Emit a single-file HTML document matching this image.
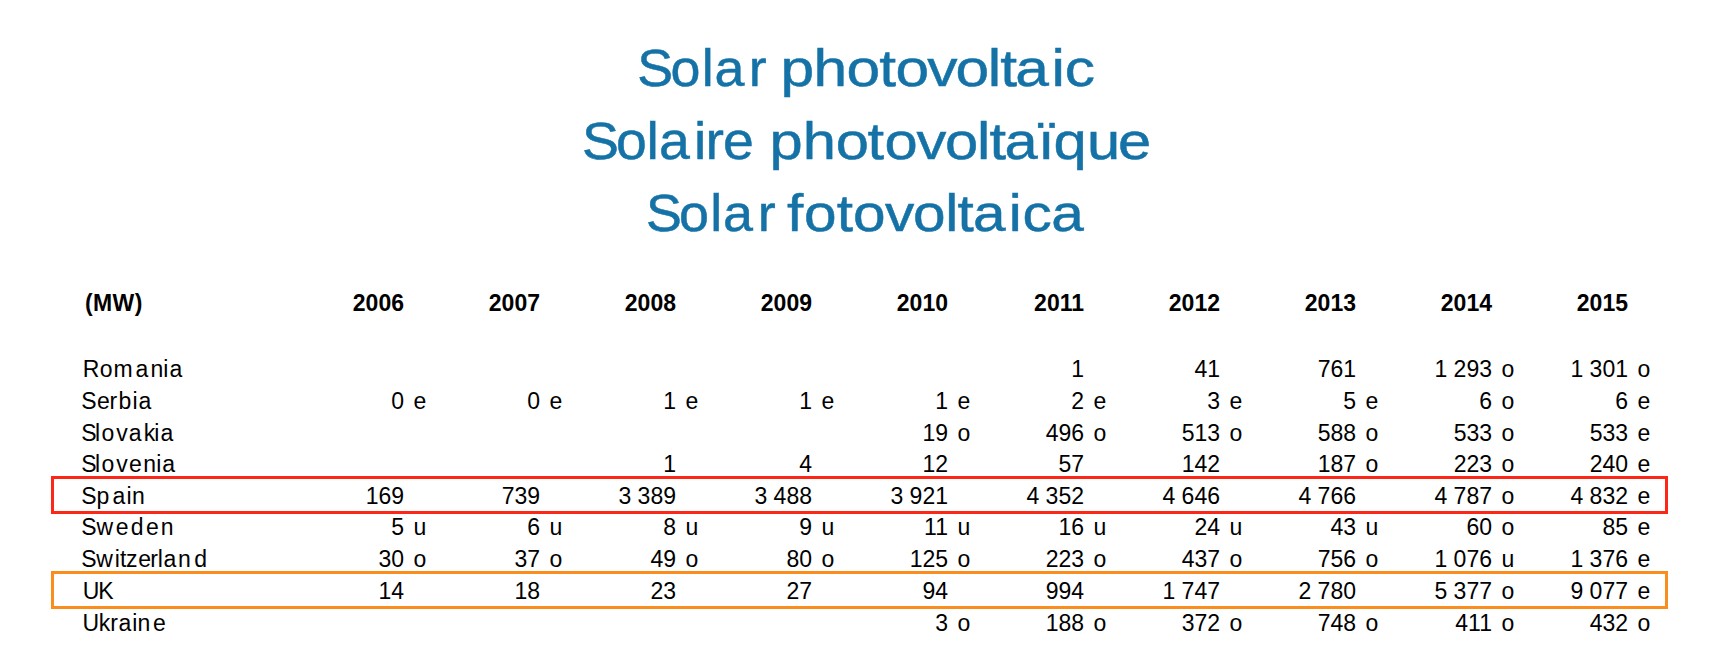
<!DOCTYPE html>
<html lang="en"><head><meta charset="utf-8"><title>Solar photovoltaic</title><style>
html,body{margin:0;padding:0;background:#fff;}
body{width:1724px;height:661px;position:relative;overflow:hidden;font-family:"Liberation Sans",Arial,Helvetica,sans-serif;color:#000;}
.t{position:absolute;white-space:nowrap;line-height:1;font-size:23px;}
.w{position:absolute;white-space:nowrap;line-height:1;font-size:52px;color:#1572a7;transform-origin:0 0;}
.r{text-align:right;}
.h{font-weight:bold;}
.box{position:absolute;left:51px;width:1617px;height:38px;box-sizing:border-box;border:3px solid;}
</style></head><body>
<h1 style="margin:0;font-size:52px;font-weight:normal">
<svg style="position:absolute;left:0;top:0" width="1724" height="260" viewBox="0 0 1724 260">
<g font-family="Liberation Sans, Arial, sans-serif" font-size="52" fill="#1572a7" stroke="#1572a7" stroke-width="0.50">
<text y="86" x="615.97 647.92 678.26 690.55 723.76" transform="scale(1.0347,1)">Solar</text>
<text y="86" x="670.70 699.14 727.40 755.71 769.59 796.96 821.11 848.99 859.70 872.62 903.68 915.08" transform="scale(1.1636,1)">photovoltaic</text>
<text y="159" x="545.70 577.68 606.34 617.98 650.91 661.59 678.06" transform="scale(1.0664,1)">Solaire</text>
<text y="159" x="670.63 699.57 728.44 756.14 770.92 798.83 823.52 851.54 862.38 875.55 904.75 918.10 947.34 974.47" transform="scale(1.1474,1)">photovoltaïque</text>
<text y="231" x="623.02 654.91 685.21 697.46 730.90" transform="scale(1.0367,1)">Solar</text>
<text y="231" x="699.14 714.14 743.21 757.76 786.08 811.15 839.63 850.66 864.34 896.10 908.23 933.85" transform="scale(1.1257,1)">fotovoltaica</text>
</g></svg>
</h1>
<div class="box" style="top:476px;border-color:#fc2716"></div>
<div class="box" style="top:571px;border-color:#fb8d1f"></div>
<div class="t h" style="left:85.00px;top:292px;letter-spacing:0.4px">(MW)</div>
<div class="t h r" style="right:1320.00px;top:292px">2006</div>
<div class="t h r" style="right:1184.00px;top:292px">2007</div>
<div class="t h r" style="right:1048.00px;top:292px">2008</div>
<div class="t h r" style="right:912.00px;top:292px">2009</div>
<div class="t h r" style="right:776.00px;top:292px">2010</div>
<div class="t h r" style="right:640.00px;top:292px">2011</div>
<div class="t h r" style="right:504.00px;top:292px">2012</div>
<div class="t h r" style="right:368.00px;top:292px">2013</div>
<div class="t h r" style="right:232.00px;top:292px">2014</div>
<div class="t h r" style="right:96.00px;top:292px">2015</div>
<svg style="position:absolute;left:0;top:0" width="260" height="661" viewBox="0 0 260 661">
<g font-family="Liberation Sans, Arial, sans-serif" font-size="23" fill="#000">
<text y="377" x="82.7 99.8 113.5 135.4 150.6 163.3 169.5">Romania</text>
<text y="409" x="81.2 97.0 109.6 118.5 132.6 138.6">Serbia</text>
<text y="441" x="81.2 95.0 101.5 116.3 128.7 143.7 154.3 160.4">Slovakia</text>
<text y="472" x="81.2 95.0 101.5 116.3 129.1 143.2 156.3 162.3">Slovenia</text>
<text y="504" x="81.2 96.6 112.5 126.6 131.9">Spain</text>
<text y="535" x="81.2 96.5 115.7 130.8 145.9 160.8">Sweden</text>
<text y="567" x="81.2 96.2 114.7 120.0 126.0 138.2 150.2 157.7 163.4 178.1 194.2">Switzerland</text>
<text y="599" x="82.7 98.2">UK</text>
<text y="631" x="82.6 98.7 110.2 118.5 132.3 137.6 152.9">Ukraine</text>
</g></svg>
<div class="t r" style="right:640.00px;top:358px">1</div>
<div class="t r" style="right:504.00px;top:358px">41</div>
<div class="t r" style="right:368.00px;top:358px">761</div>
<div class="t r" style="right:232.00px;top:358px">1 293</div>
<div class="t" style="left:1501.50px;top:358px">o</div>
<div class="t r" style="right:96.00px;top:358px">1 301</div>
<div class="t" style="left:1637.50px;top:358px">o</div>
<div class="t r" style="right:1320.00px;top:390px">0</div>
<div class="t" style="left:413.50px;top:390px">e</div>
<div class="t r" style="right:1184.00px;top:390px">0</div>
<div class="t" style="left:549.50px;top:390px">e</div>
<div class="t r" style="right:1048.00px;top:390px">1</div>
<div class="t" style="left:685.50px;top:390px">e</div>
<div class="t r" style="right:912.00px;top:390px">1</div>
<div class="t" style="left:821.50px;top:390px">e</div>
<div class="t r" style="right:776.00px;top:390px">1</div>
<div class="t" style="left:957.50px;top:390px">e</div>
<div class="t r" style="right:640.00px;top:390px">2</div>
<div class="t" style="left:1093.50px;top:390px">e</div>
<div class="t r" style="right:504.00px;top:390px">3</div>
<div class="t" style="left:1229.50px;top:390px">e</div>
<div class="t r" style="right:368.00px;top:390px">5</div>
<div class="t" style="left:1365.50px;top:390px">e</div>
<div class="t r" style="right:232.00px;top:390px">6</div>
<div class="t" style="left:1501.50px;top:390px">o</div>
<div class="t r" style="right:96.00px;top:390px">6</div>
<div class="t" style="left:1637.50px;top:390px">e</div>
<div class="t r" style="right:776.00px;top:422px">19</div>
<div class="t" style="left:957.50px;top:422px">o</div>
<div class="t r" style="right:640.00px;top:422px">496</div>
<div class="t" style="left:1093.50px;top:422px">o</div>
<div class="t r" style="right:504.00px;top:422px">513</div>
<div class="t" style="left:1229.50px;top:422px">o</div>
<div class="t r" style="right:368.00px;top:422px">588</div>
<div class="t" style="left:1365.50px;top:422px">o</div>
<div class="t r" style="right:232.00px;top:422px">533</div>
<div class="t" style="left:1501.50px;top:422px">o</div>
<div class="t r" style="right:96.00px;top:422px">533</div>
<div class="t" style="left:1637.50px;top:422px">e</div>
<div class="t r" style="right:1048.00px;top:453px">1</div>
<div class="t r" style="right:912.00px;top:453px">4</div>
<div class="t r" style="right:776.00px;top:453px">12</div>
<div class="t r" style="right:640.00px;top:453px">57</div>
<div class="t r" style="right:504.00px;top:453px">142</div>
<div class="t r" style="right:368.00px;top:453px">187</div>
<div class="t" style="left:1365.50px;top:453px">o</div>
<div class="t r" style="right:232.00px;top:453px">223</div>
<div class="t" style="left:1501.50px;top:453px">o</div>
<div class="t r" style="right:96.00px;top:453px">240</div>
<div class="t" style="left:1637.50px;top:453px">e</div>
<div class="t r" style="right:1320.00px;top:485px">169</div>
<div class="t r" style="right:1184.00px;top:485px">739</div>
<div class="t r" style="right:1048.00px;top:485px">3 389</div>
<div class="t r" style="right:912.00px;top:485px">3 488</div>
<div class="t r" style="right:776.00px;top:485px">3 921</div>
<div class="t r" style="right:640.00px;top:485px">4 352</div>
<div class="t r" style="right:504.00px;top:485px">4 646</div>
<div class="t r" style="right:368.00px;top:485px">4 766</div>
<div class="t r" style="right:232.00px;top:485px">4 787</div>
<div class="t" style="left:1501.50px;top:485px">o</div>
<div class="t r" style="right:96.00px;top:485px">4 832</div>
<div class="t" style="left:1637.50px;top:485px">e</div>
<div class="t r" style="right:1320.00px;top:516px">5</div>
<div class="t" style="left:413.50px;top:516px">u</div>
<div class="t r" style="right:1184.00px;top:516px">6</div>
<div class="t" style="left:549.50px;top:516px">u</div>
<div class="t r" style="right:1048.00px;top:516px">8</div>
<div class="t" style="left:685.50px;top:516px">u</div>
<div class="t r" style="right:912.00px;top:516px">9</div>
<div class="t" style="left:821.50px;top:516px">u</div>
<div class="t r" style="right:776.00px;top:516px">11</div>
<div class="t" style="left:957.50px;top:516px">u</div>
<div class="t r" style="right:640.00px;top:516px">16</div>
<div class="t" style="left:1093.50px;top:516px">u</div>
<div class="t r" style="right:504.00px;top:516px">24</div>
<div class="t" style="left:1229.50px;top:516px">u</div>
<div class="t r" style="right:368.00px;top:516px">43</div>
<div class="t" style="left:1365.50px;top:516px">u</div>
<div class="t r" style="right:232.00px;top:516px">60</div>
<div class="t" style="left:1501.50px;top:516px">o</div>
<div class="t r" style="right:96.00px;top:516px">85</div>
<div class="t" style="left:1637.50px;top:516px">e</div>
<div class="t r" style="right:1320.00px;top:548px">30</div>
<div class="t" style="left:413.50px;top:548px">o</div>
<div class="t r" style="right:1184.00px;top:548px">37</div>
<div class="t" style="left:549.50px;top:548px">o</div>
<div class="t r" style="right:1048.00px;top:548px">49</div>
<div class="t" style="left:685.50px;top:548px">o</div>
<div class="t r" style="right:912.00px;top:548px">80</div>
<div class="t" style="left:821.50px;top:548px">o</div>
<div class="t r" style="right:776.00px;top:548px">125</div>
<div class="t" style="left:957.50px;top:548px">o</div>
<div class="t r" style="right:640.00px;top:548px">223</div>
<div class="t" style="left:1093.50px;top:548px">o</div>
<div class="t r" style="right:504.00px;top:548px">437</div>
<div class="t" style="left:1229.50px;top:548px">o</div>
<div class="t r" style="right:368.00px;top:548px">756</div>
<div class="t" style="left:1365.50px;top:548px">o</div>
<div class="t r" style="right:232.00px;top:548px">1 076</div>
<div class="t" style="left:1501.50px;top:548px">u</div>
<div class="t r" style="right:96.00px;top:548px">1 376</div>
<div class="t" style="left:1637.50px;top:548px">e</div>
<div class="t r" style="right:1320.00px;top:580px">14</div>
<div class="t r" style="right:1184.00px;top:580px">18</div>
<div class="t r" style="right:1048.00px;top:580px">23</div>
<div class="t r" style="right:912.00px;top:580px">27</div>
<div class="t r" style="right:776.00px;top:580px">94</div>
<div class="t r" style="right:640.00px;top:580px">994</div>
<div class="t r" style="right:504.00px;top:580px">1 747</div>
<div class="t r" style="right:368.00px;top:580px">2 780</div>
<div class="t r" style="right:232.00px;top:580px">5 377</div>
<div class="t" style="left:1501.50px;top:580px">o</div>
<div class="t r" style="right:96.00px;top:580px">9 077</div>
<div class="t" style="left:1637.50px;top:580px">e</div>
<div class="t r" style="right:776.00px;top:612px">3</div>
<div class="t" style="left:957.50px;top:612px">o</div>
<div class="t r" style="right:640.00px;top:612px">188</div>
<div class="t" style="left:1093.50px;top:612px">o</div>
<div class="t r" style="right:504.00px;top:612px">372</div>
<div class="t" style="left:1229.50px;top:612px">o</div>
<div class="t r" style="right:368.00px;top:612px">748</div>
<div class="t" style="left:1365.50px;top:612px">o</div>
<div class="t r" style="right:232.00px;top:612px">411</div>
<div class="t" style="left:1501.50px;top:612px">o</div>
<div class="t r" style="right:96.00px;top:612px">432</div>
<div class="t" style="left:1637.50px;top:612px">o</div>
</body></html>
